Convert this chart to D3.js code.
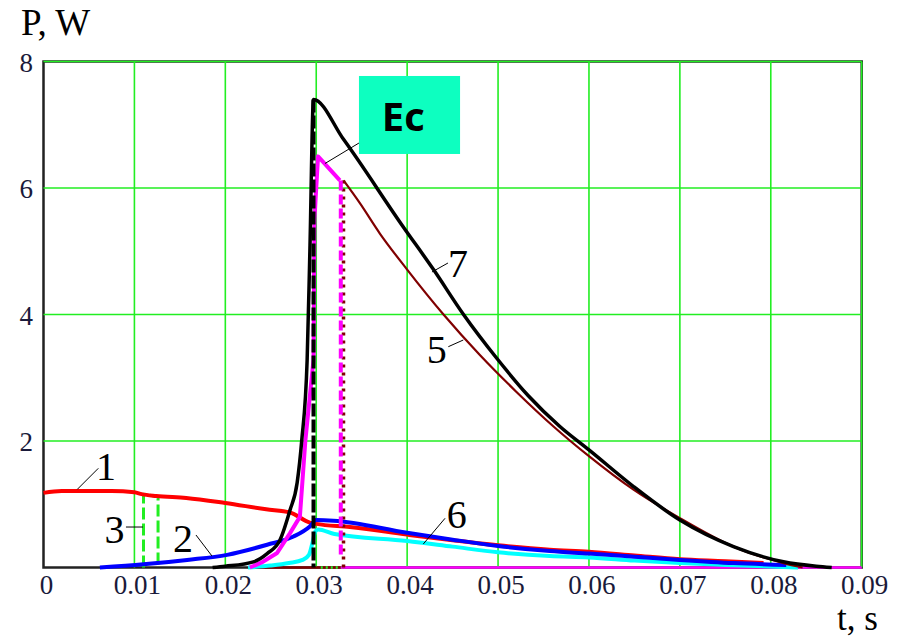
<html>
<head>
<meta charset="utf-8">
<script src="https://d3js.org/d3.v7.min.js"></script>
<style>
body { margin: 0; background: #fff; }
svg { display: block; }
</style>
</head>
<body>
<svg width="899" height="637"></svg>
<script>

// axis ticks
var xTicks = [0, 0.01, 0.02, 0.03, 0.04, 0.05, 0.06, 0.07, 0.08, 0.09];
var xTickLabels = ["0", "0.01", "0.02", "0.03", "0.04", "0.05", "0.06", "0.07", "0.08", "0.09"];
var yTicks = [2, 4, 6, 8];
var yTickLabels = ["2", "4", "6", "8"];

// 1 - red
var t1 = [0, 0.002, 0.0075, 0.01, 0.0108, 0.0124, 0.0157, 0.02, 0.0245, 0.0271, 0.0293, 0.03, 0.0337, 0.04, 0.045, 0.05, 0.0557, 0.06, 0.065, 0.07, 0.075, 0.0792];
var p1 = [1.18, 1.21, 1.21, 1.19, 1.16, 1.13, 1.10, 1.02, 0.92, 0.87, 0.71, 0.69, 0.64, 0.52, 0.43, 0.35, 0.28, 0.25, 0.19, 0.13, 0.10, 0.07];

// 2 / 6 - blue
var t2 = [0.0062, 0.011, 0.0158, 0.0202, 0.0246, 0.0275, 0.0293, 0.03, 0.0319, 0.04, 0.045, 0.05, 0.0557, 0.06, 0.065, 0.07, 0.0759, 0.0817];
var p2 = [0, 0.05, 0.12, 0.20, 0.36, 0.49, 0.65, 0.75, 0.74, 0.55, 0.44, 0.34, 0.26, 0.22, 0.17, 0.12, 0.07, 0.04];

// cyan
var tC = [0.0225, 0.025, 0.027, 0.0285, 0.0292, 0.0296, 0.0299, 0.0302, 0.032, 0.04, 0.045, 0.05, 0.0557, 0.06, 0.065, 0.07, 0.075, 0.083];
var pC = [0, 0.03, 0.07, 0.12, 0.2, 0.4, 0.57, 0.6, 0.53, 0.42, 0.33, 0.24, 0.18, 0.16, 0.11, 0.07, 0.04, 0];

// 3 - green pulse
var t3 = [0.011, 0.011, 0.0126, 0.0126];
var p3 = [0, 1.16, 1.12, 0];

// 7 - black
var t7 = [0.0186, 0.02, 0.0231, 0.0246, 0.026, 0.0271, 0.0279, 0.0284, 0.029, 0.0293, 0.0297, 0.033, 0.0395, 0.0429, 0.0462, 0.0499, 0.0533, 0.0568, 0.06, 0.0649, 0.07, 0.0759, 0.0814, 0.085, 0.0867];
var p7 = [0, 0.02, 0.09, 0.22, 0.43, 0.9, 1.34, 2.0, 3.28, 5.0, 7.4, 6.77, 5.40, 4.71, 4.0, 3.3, 2.72, 2.23, 1.86, 1.28, 0.75, 0.33, 0.09, 0.02, 0];

// magenta
var tM = [0.0227, 0.024, 0.0257, 0.0271, 0.0282, 0.0288, 0.0297, 0.0298, 0.0302, 0.0326];
var pM = [0, 0.08, 0.23, 0.54, 0.80, 2.0, 3.28, 5.5, 6.5, 6.12];

// 5 - brown
var t5 = [0.033, 0.0348, 0.037, 0.04, 0.044, 0.048, 0.052, 0.0561, 0.06, 0.0649, 0.07, 0.0759, 0.0814, 0.0835];
var p5 = [6.12, 5.76, 5.28, 4.71, 4.0, 3.36, 2.78, 2.23, 1.76, 1.23, 0.78, 0.33, 0.07, 0];

// switching instants
var tBlackDrop = 0.0297;
var tMagentaDrop = 0.0327;
var tBrownDrop = 0.033;

var serif = "'Liberation Serif', 'DejaVu Serif', serif";

var svg = d3.select("svg");
svg.append("rect").attr("width", 899).attr("height", 637).attr("fill", "#fff");

var x = d3.scaleLinear().domain([0, 0.09]).range([43.5, 861.7]);
var y = d3.scaleLinear().domain([0, 8]).range([567.5, 61.5]);

function pts(ts, ps) {
	return ts.map(function(t, i) { return [t, ps[i]]; });
}
var line = d3.line().x(function(d) { return x(d[0]); }).y(function(d) { return y(d[1]); });
var smooth = d3.line().curve(d3.curveMonotoneX).x(function(d) { return x(d[0]); }).y(function(d) { return y(d[1]); });

// frame
svg.append("rect")
	.attr("x", x(0)).attr("y", y(8))
	.attr("width", x(0.09) - x(0)).attr("height", y(0) - y(8))
	.attr("fill", "none").attr("stroke", "#222").attr("stroke-width", 2.5);

// grid
svg.selectAll("line.vgrid").data(xTicks.slice(1)).enter().append("line")
	.attr("x1", function(d) { return x(d); }).attr("x2", function(d) { return x(d); })
	.attr("y1", y(0)).attr("y2", y(8))
	.attr("stroke", "#22ee22").attr("stroke-width", 1.6);
svg.selectAll("line.hgrid").data(yTicks).enter().append("line")
	.attr("x1", x(0)).attr("x2", x(0.09))
	.attr("y1", function(d) { return y(d); }).attr("y2", function(d) { return y(d); })
	.attr("stroke", "#22ee22").attr("stroke-width", 1.6);

// tick labels
svg.selectAll("text.xt").data(xTicks).enter().append("text")
	.attr("x", function(d) { return x(d) + 3; }).attr("y", 594)
	.attr("text-anchor", "middle").attr("font-size", 27).attr("font-family", serif).attr("fill", "#1a1a3a")
	.text(function(d, i) { return xTickLabels[i]; });
svg.selectAll("text.yt").data(yTicks).enter().append("text")
	.attr("x", 33).attr("y", function(d) { return y(d) + 10; })
	.attr("text-anchor", "end").attr("font-size", 27).attr("font-family", serif).attr("fill", "#1a1a3a")
	.text(function(d, i) { return yTickLabels[i]; });

svg.append("text").attr("x", 21).attr("y", 35).attr("font-size", 37).attr("font-family", serif).text("P, W");
svg.append("text").attr("x", 837).attr("y", 630).attr("font-size", 35).attr("font-family", serif).text("t, s");

// curves
function draw(d, gen, color, w, dash) {
	var p = svg.append("path").attr("d", gen(d)).attr("fill", "none")
		.attr("stroke", color).attr("stroke-width", w).attr("stroke-linejoin", "round");
	if (dash) p.attr("stroke-dasharray", dash);
	return p;
}

draw(pts(t3, p3), line, "#22ee22", 3, "12,4");
draw([[0.0225, 0], [tBrownDrop, 0]], line, "#800000", 2.5);
draw([[0.0305, 0], [tBrownDrop, 0]], line, "#22ee22", 2.5, "2,3");
draw([[tMagentaDrop, 0], [0.09, 0]], line, "#ff00ff", 2.5);
draw(pts(tC, pC), smooth, "#00ffff", 4);
draw(pts(t1, p1), smooth, "#ff0000", 4);
draw(pts(t2, p2), smooth, "#0000ff", 4);
draw(pts(t5, p5), smooth, "#800000", 2.2);
draw([[tBrownDrop, 0], [tBrownDrop, p5[0]]], line, "#800000", 3.5, "3,5");
draw(pts(tM, pM), line, "#ff00ff", 4);
draw([[tMagentaDrop, p5[0]], [tMagentaDrop, 0.2]], line, "#ff00ff", 4, "10,4");
draw(pts(t7, p7), smooth, "#000000", 3.5);
draw([[tBlackDrop, p7[10]], [tBlackDrop, 0]], line, "#000000", 4, "13,3");

// curve labels and leaders (data coords)
var labels = [
	{ text: "1", t: 0.00688, p: 1.383, l: [[0.00372, 1.236], [0.00603, 1.568]] },
	{ text: "3", t: 0.00781, p: 0.387, l: [[0.00907, 0.640], [0.01094, 0.640]] },
	{ text: "2", t: 0.01534, p: 0.250, l: [[0.01677, 0.514], [0.01853, 0.182]] },
	{ text: "6", t: 0.04545, p: 0.624, l: [[0.04417, 0.778], [0.04178, 0.372]] },
	{ text: "7", t: 0.04559, p: 4.593, l: [[0.04449, 4.814], [0.04273, 4.672]] },
	{ text: "5", t: 0.04325, p: 3.233, l: [[0.04453, 3.491], [0.04618, 3.597]] }
];
labels.forEach(function(d) {
	draw(d.l, line, "#000", 1);
	svg.append("text").attr("x", x(d.t)).attr("y", y(d.p))
		.attr("text-anchor", "middle").attr("font-size", 40).attr("font-family", serif)
		.text(d.text);
});

// Ec box
draw([[0.03470, 6.711], [0.03096, 6.387]], line, "#000", 1);
svg.append("rect")
	.attr("x", x(0.0347)).attr("y", y(7.771))
	.attr("width", x(0.04582) - x(0.0347)).attr("height", y(6.538) - y(7.771))
	.attr("fill", "#0dffc0");
svg.append("text").attr("x", x(0.03958)).attr("y", y(6.901))
	.attr("text-anchor", "middle").attr("font-size", 40).attr("font-weight", "bold")
	.attr("font-family", "'Open Sans', sans-serif")
	.text("Ec");

</script>
</body>
</html>
